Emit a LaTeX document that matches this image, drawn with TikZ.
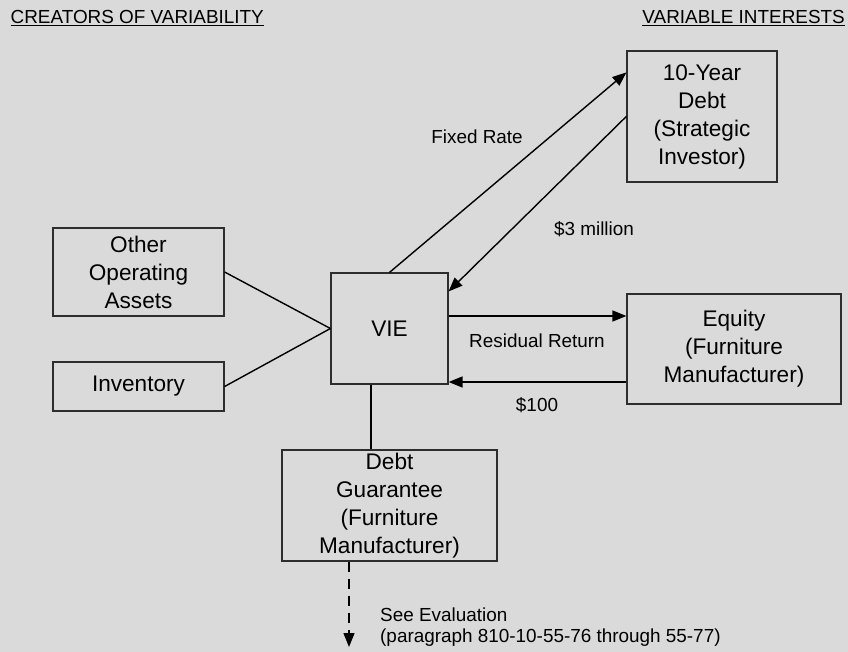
\documentclass[tikz,border=0pt]{standalone}
\usepackage{fontspec}
\setmainfont{Liberation Sans}
\usetikzlibrary{arrows.meta,calc}
\definecolor{bgc}{RGB}{218,218,218}
\definecolor{edgec}{RGB}{45,45,45}
\begin{document}
\begin{tikzpicture}[x=1pt,y=-1pt,
  box/.style={draw=edgec, line width=1.2pt, fill=bgc, inner sep=0pt, align=center,
    font=\fontsize{22.6}{28}\selectfont},
  lbl/.style={font=\fontsize{18.9}{23}\selectfont, inner sep=0pt},
  conn/.style={line width=1.4pt, draw=black},
  arr/.style={conn, -{Triangle[length=14pt,width=11pt]}}]
\fill[bgc] (0,0) rectangle (848,652);
\useasboundingbox (0,0) rectangle (848,652);

% headers
\node[lbl, anchor=base west] (h1) at (10.5,23.5) {CREATORS OF VARIABILITY};
\node[lbl, anchor=base east] (h2) at (845,23.5) {VARIABLE INTERESTS};
\draw[line width=1.3pt] ([yshift=-2.3pt]h1.base west) -- ([yshift=-2.3pt]h1.base east);
\draw[line width=1.3pt] ([yshift=-2.3pt]h2.base west) -- ([yshift=-2.3pt]h2.base east);

% boxes
\node[box, minimum width=150pt, minimum height=131pt] (debt) at (702,116.5) {10-Year\\Debt\\(Strategic\\Investor)};
\node[box, minimum width=117pt, minimum height=111pt] (vie) at (389.5,328.5) {VIE};
\node[box, minimum width=214pt, minimum height=110pt] (eq) at (734,349) {Equity\\(Furniture\\Manufacturer)};
\node[box, minimum width=171pt, minimum height=88pt] (oth) at (138.5,272) {Other\\Operating\\Assets};
\node[box, minimum width=171pt, minimum height=49pt] (inv) at (138.5,386.5) {Inventory};
\node[box, minimum width=215pt, minimum height=111pt] (guar) at (389.5,505.5) {Debt\\Guarantee\\(Furniture\\Manufacturer)};

% connectors
\draw[arr] (vie.north) -- ([yshift=-22pt]debt.north west);
\draw[arr] ([yshift=-66pt]debt.north west) -- ([yshift=-19pt]vie.north east);
\draw[arr] ([yshift=12.5pt]vie.east) -- ([yshift=12.5pt]vie.east -| eq.west);
\draw[arr] ([yshift=-33pt]eq.west) -- ([yshift=-33pt]eq.west -| vie.east);
\draw[conn] (oth.east) -- (vie.west);
\draw[conn] (inv.east) -- (vie.west);
\draw[conn] ([xshift=-18.5pt]vie.south) -- ([xshift=-18.5pt]vie.south |- guar.north);
\coordinate (evend) at (349,647);
\draw[arr, dash pattern=on 10pt off 7pt] ([xshift=-40.5pt]guar.south) -- (evend);

% labels
\node[lbl] (fr) at (477,137) {Fixed Rate};
\node[lbl] (m3) at (594,229) {\$3 million};
\node[lbl] (rr) at (537,341) {Residual Return};
\node[lbl] (h100) at (537,405) {\$100};
\node[lbl, anchor=west] (se1) at (380,615) {See Evaluation};
\node[lbl, anchor=west] (se2) at (380,638) {(paragraph 810-10-55-76 through 55-77)};
\end{tikzpicture}
\end{document}
